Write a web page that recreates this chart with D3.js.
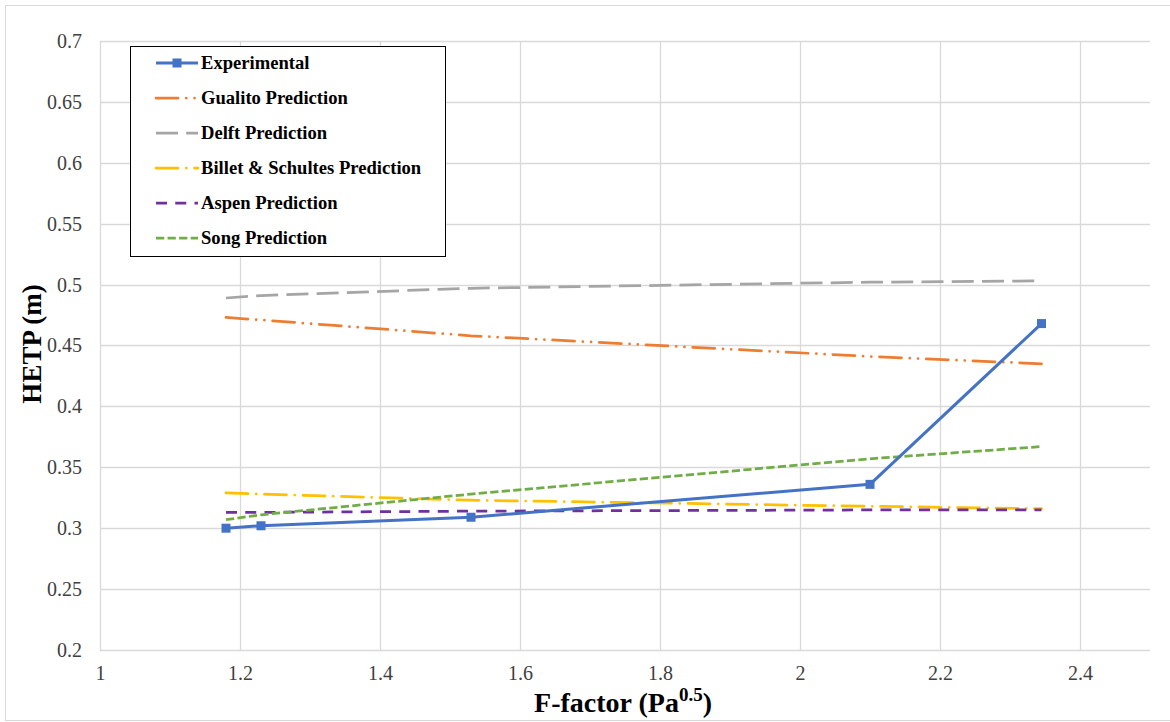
<!DOCTYPE html>
<html><head><meta charset="utf-8">
<script src="https://cdn.jsdelivr.net/npm/d3@7"></script>
<style>body{margin:0;background:#fff}svg{display:block}
svg text{font-family:'Liberation Serif','Times New Roman',serif !important;}
</style>
</head><body>
<svg id="chart" width="1170" height="722"></svg>
<script>
const fFactor = [1.18, 1.23, 1.53, 2.1, 2.345];
const experimental = [0.300, 0.302, 0.309, 0.336, 0.468];
const gualito = [0.473, 0.471, 0.458, 0.441, 0.435];
const delft = [0.489, 0.491, 0.497, 0.502, 0.503];
const billet = [0.329, 0.328, 0.323, 0.318, 0.316];
const aspen = [0.313, 0.313, 0.314, 0.315, 0.315];
const song = [0.307, 0.311, 0.328, 0.357, 0.367];
const xTicks = [1, 1.2, 1.4, 1.6, 1.8, 2, 2.2, 2.4];
const yTicks = [0.2, 0.25, 0.3, 0.35, 0.4, 0.45, 0.5, 0.55, 0.6, 0.65, 0.7];
const seriesNames = ["Experimental", "Gualito Prediction", "Delft Prediction", "Billet & Schultes Prediction", "Aspen Prediction", "Song Prediction"];

const w = 2.75;
const styles = [
  {color: "#4472C4", dash: null, width: 3, marker: true},
  {color: "#ED7D31", dash: [8*w, 3*w, 0.01, 3*w, 0.01, 3*w], width: w, cap: "round"},
  {color: "#A5A5A5", dash: [8*w, 3*w], width: w},
  {color: "#FFC000", dash: [8*w, 3*w, 0.01, 3*w], width: w, cap: "round"},
  {color: "#7030A0", dash: [4*w, 3*w], width: w},
  {color: "#70AD47", dash: [3*w, 1.2*w], width: w}
];
const seriesData = [experimental, gualito, delft, billet, aspen, song];
const FONT = "'Liberation Serif','Times New Roman',serif";

const svg = d3.select("#chart");
svg.append("rect").attr("x", 5.5).attr("y", 5.5).attr("width", 1170).attr("height", 715)
  .attr("fill", "#fff").attr("stroke", "#d9d9d9").attr("stroke-width", 1);

const x = d3.scaleLinear().domain([1, 2.5]).range([100, 1150]);
const y = d3.scaleLinear().domain([0.2, 0.7]).range([650, 41]);

const g = svg.append("g");
g.selectAll(".hg").data(yTicks).enter().append("line")
  .attr("x1", x(1)).attr("x2", x(2.5))
  .attr("y1", d => Math.round(y(d)) + 0.5).attr("y2", d => Math.round(y(d)) + 0.5)
  .attr("stroke", "#d9d9d9").attr("stroke-width", 1.3);
g.selectAll(".vg").data(xTicks).enter().append("line")
  .attr("y1", y(0.2)).attr("y2", y(0.7))
  .attr("x1", d => Math.round(x(d)) + 0.5).attr("x2", d => Math.round(x(d)) + 0.5)
  .attr("stroke", "#d9d9d9").attr("stroke-width", 1.3);

const yAxis = d3.axisLeft(y).tickValues(yTicks).tickSize(0).tickPadding(18).tickFormat(d3.format("~g"));
const yg = svg.append("g").attr("transform", "translate(100,0)").call(yAxis);
yg.select(".domain").remove();
yg.attr("font-family", FONT).attr("font-size", 20);
yg.selectAll("text").attr("fill", "#404040");

const xAxis = d3.axisBottom(x).tickValues(xTicks).tickSize(0).tickPadding(16).tickFormat(d3.format("~g"));
const xg = svg.append("g").attr("transform", "translate(0,650)").call(xAxis);
xg.select(".domain").remove();
xg.attr("font-family", FONT).attr("font-size", 20);
xg.selectAll("text").attr("fill", "#404040");

const line = d3.line().x((d, i) => x(fFactor[i])).y(d => y(d));
const order = [1, 2, 3, 4, 5, 0];
order.forEach(k => {
  const s = styles[k];
  const p = svg.append("path").datum(seriesData[k]).attr("d", line)
    .attr("fill", "none").attr("stroke", s.color).attr("stroke-width", s.width)
    .attr("stroke-linejoin", "round");
  if (s.dash) p.attr("stroke-dasharray", s.dash.join(","));
  if (s.cap) p.attr("stroke-linecap", s.cap);
  if (s.marker) {
    svg.selectAll(".m").data(seriesData[k]).enter().append("rect")
      .attr("x", (d, i) => x(fFactor[i]) - 4.5).attr("y", d => y(d) - 4.5)
      .attr("width", 9).attr("height", 9).attr("fill", s.color);
  }
});

const lg = svg.append("g");
lg.append("rect").attr("x", 130.5).attr("y", 46.5).attr("width", 315).attr("height", 210)
  .attr("fill", "#fff").attr("stroke", "#000").attr("stroke-width", 1);
seriesNames.forEach((name, i) => {
  const s = styles[i];
  const yy = 63 + i * 35;
  const p = lg.append("line").attr("x1", 156).attr("x2", 198).attr("y1", yy).attr("y2", yy)
    .attr("stroke", s.color).attr("stroke-width", s.width);
  if (s.dash) p.attr("stroke-dasharray", s.dash.join(","));
  if (s.cap) p.attr("stroke-linecap", s.cap);
  if (s.marker) lg.append("rect").attr("x", 177 - 4.5).attr("y", yy - 4.5).attr("width", 9).attr("height", 9).attr("fill", s.color);
  lg.append("text").attr("x", 201).attr("y", yy + 6).text(name)
    .attr("font-family", FONT).attr("font-size", 18.6)
    .attr("font-weight", "bold").attr("fill", "#000");
});

svg.append("text").attr("transform", "translate(41,344) rotate(-90)").attr("text-anchor", "middle")
  .attr("font-family", FONT).attr("font-size", 27).attr("font-weight", "bold")
  .text("HETP (m)");
const xt = svg.append("text").attr("x", 623).attr("y", 712).attr("text-anchor", "middle")
  .attr("font-family", FONT).attr("font-size", 28).attr("font-weight", "bold");
xt.append("tspan").text("F-factor (Pa");
xt.append("tspan").attr("font-size", 19).attr("dy", -11).text("0.5");
xt.append("tspan").attr("dy", 11).text(")");
</script>
</body></html>
